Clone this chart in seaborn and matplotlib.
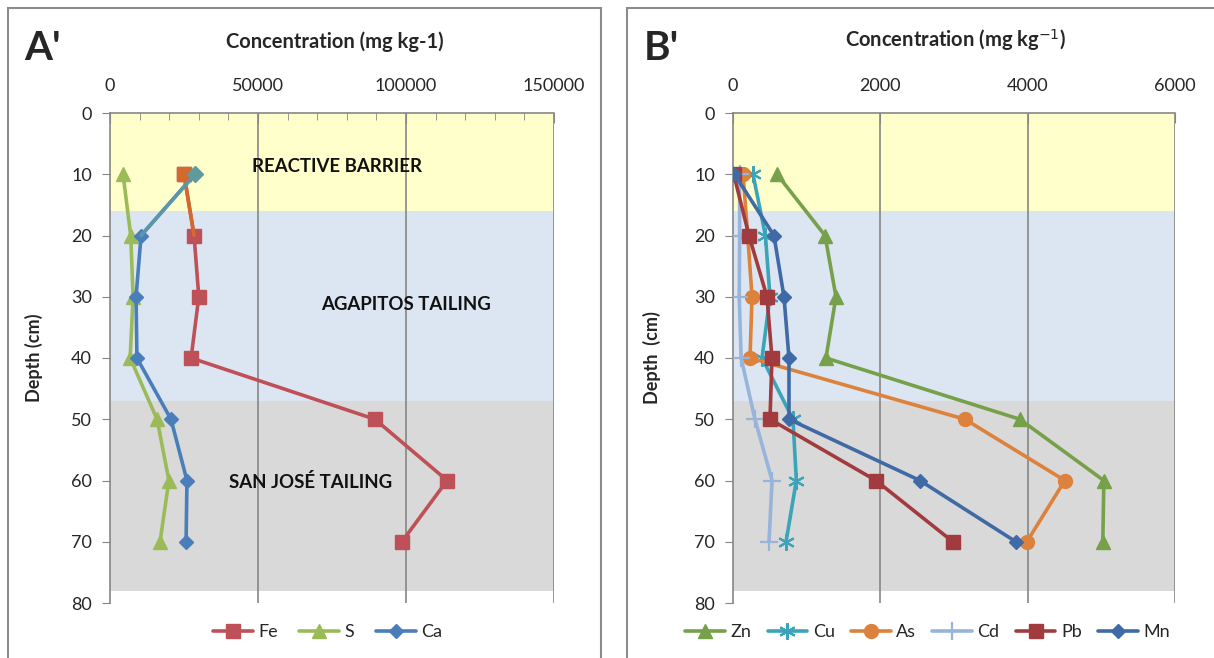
import numpy as np
import pandas as pd
import seaborn as sns
import matplotlib.pyplot as plt
from matplotlib.patches import Rectangle

# Depth profiles
depth = [10, 20, 30, 40, 50, 60, 70]

# panel A' (major elements, mg/kg)
fe = [25000, 28400, 30000, 27400, 89500, 113900, 98600]
s = [4400, 7000, 7800, 6800, 15900, 19900, 16900]
ca = [28700, 10500, 8800, 9100, 20600, 26000, 25700]

# panel B' (trace elements, mg/kg)
zn = [597, 1249, 1398, 1262, 3894, 5034, 5020]
cu = [271, 440, 502, 394, 814, 860, 720]
as_ = [136, 200, 258, 231, 3148, 4505, 3989]
cd = [90, 90, 85, 110, 298, 530, 489]
pb = [10, 217, 461, 529, 502, 1940, 2985]
mn = [20, 556, 692, 760, 760, 2537, 3840]

# depth zones (cm)
zones = [(0, 16, '#FFFFCC'), (16, 47, '#DCE6F2'), (47, 78, '#D9D9D9')]
zone_names = ['REACTIVE BARRIER', 'AGAPITOS TAILING', 'SAN JOSÉ TAILING']

sns.set_style('white')
plt.rcParams['font.family'] = ['Lato', 'DejaVu Sans']

fig = plt.figure(figsize=(12.14, 6.58), dpi=100)
W, H = 1214, 658

# chart-area borders
fig.patches.append(Rectangle((8 / W, -0.1), 593 / W, 1.1 - 8 / H, transform=fig.transFigure,
                             fill=False, edgecolor='#8C8C8C', lw=1.5))
fig.patches.append(Rectangle((627 / W, -0.1), 600 / W, 1.1 - 8 / H, transform=fig.transFigure,
                             fill=False, edgecolor='#8C8C8C', lw=1.5))

axA = fig.add_axes([110 / W, 1 - 603 / H, 444 / W, 490 / H])
axB = fig.add_axes([733 / W, 1 - 603 / H, 442 / W, 490 / H])


def style_axis(ax, xmax, xmajor, xminor, ylabel, ypad):
    ax.set_xlim(0, xmax)
    ax.set_ylim(80, 0)
    ax.xaxis.tick_top()
    ax.xaxis.set_label_position('top')
    ax.set_xticks(np.arange(0, xmax + 1, xmajor))
    ax.set_xticks(np.arange(0, xmax + 1, xminor), minor=True)
    ax.set_yticks(range(0, 81, 10))
    ax.tick_params(axis='x', which='major', direction='in', length=7, color='#868686',
                   labelsize=13, pad=14)
    ax.tick_params(axis='x', which='minor', direction='in', length=5, color='#868686')
    ax.tick_params(axis='y', direction='out', length=6, color='#868686', labelsize=13,
                   left=True, pad=7)
    for side in ['right', 'bottom']:
        ax.spines[side].set_visible(False)
    for side in ['left', 'top']:
        ax.spines[side].set_color('#868686')
        ax.spines[side].set_linewidth(1.2)
    for lo, hi, c in zones:
        ax.axhspan(lo, hi, color=c, zorder=0, lw=0)
    for v in np.arange(xmajor, xmax + 1, xmajor):
        ax.axvline(v, color='#868686', lw=1.2, zorder=1)
    ax.set_ylabel(ylabel, fontsize=13, fontweight='bold', labelpad=ypad)
    ax.set_xlabel('')


def draw(ax, values, name, color, marker, ms, mew=1.0):
    sns.lineplot(x=values, y=depth, sort=False, estimator=None, color=color, lw=2.6,
                 marker=marker, markersize=ms, markeredgecolor=color, markeredgewidth=mew,
                 label=name, ax=ax, zorder=3)


# ---- panel A'
draw(axA, fe, 'Fe', '#BE5157', 's', 10)
draw(axA, s, 'S', '#9BBB59', '^', 10)
draw(axA, ca, 'Ca', '#4A7EBB', 'D', 7.5)
# first segments had their own colour in the original
axA.plot(fe[:2], depth[:2], color='#D2692F', lw=2.6, zorder=3.1)
axA.plot(fe[:1], depth[:1], 's', color='#D2692F', ms=10, zorder=3.2)
axA.plot(ca[:2], depth[:2], color='#5C97A8', lw=2.6, zorder=3.3)
axA.plot(ca[:1], depth[:1], 'D', color='#5F9A9E', ms=8, zorder=3.4)
style_axis(axA, 150000, 50000, 10000, 'Depth (cm)', 20)

label_kw = dict(fontsize=13.4, fontweight='bold', ha='center', va='center', color='#111111')
axA.text(76700, 8.8, zone_names[0], **label_kw)
axA.text(100000, 31.3, zone_names[1], **label_kw)
axA.text(67900, 60.3, zone_names[2], **label_kw)

axA.legend(loc='center', bbox_to_anchor=(0.49, -0.06), ncol=3, frameon=False, fontsize=13,
           handlelength=2.2, columnspacing=1.2, handletextpad=0.3)

# ---- panel B'
draw(axB, zn, 'Zn', '#77A04B', '^', 10)
draw(axB, cu, 'Cu', '#3BA4B8', (6, 2, 0), 12, 1.5)
draw(axB, as_, 'As', '#DC823C', 'o', 10)
draw(axB, cd, 'Cd', '#98B4DA', '+', 13, 1.6)
draw(axB, pb, 'Pb', '#A23B3E', 's', 10)
draw(axB, mn, 'Mn', '#3F6AA5', 'D', 7.5)
style_axis(axB, 6000, 2000, 2000, 'Depth  (cm)', 24)

axB.legend(loc='center', bbox_to_anchor=(0.44, -0.06), ncol=6, frameon=False, fontsize=13,
           handlelength=2.2, columnspacing=0.9, handletextpad=0.3)

# titles and panel letters
fig.text(335 / W, 1 - 42 / H, 'Concentration (mg kg-1)', fontsize=14.5, fontweight='bold',
         ha='center', va='center')
fig.text(956 / W, 1 - 40 / H, 'Concentration (mg kg$^{-1}$)', fontsize=14.5, fontweight='bold',
         ha='center', va='center')
fig.text(24 / W, 1 - 49 / H, "A'", fontsize=29, fontweight='bold', ha='left', va='center')
fig.text(644 / W, 1 - 48 / H, "B'", fontsize=29, fontweight='bold', ha='left', va='center')

fig.savefig('out.png', dpi=100)
